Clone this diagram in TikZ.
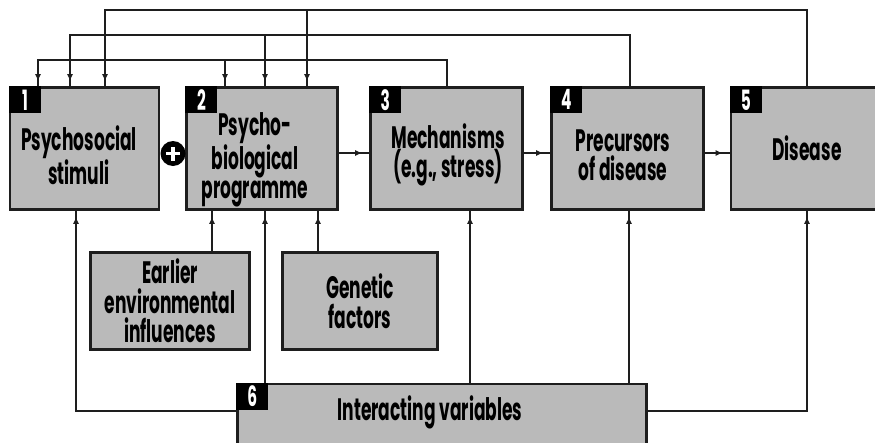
\documentclass[tikz,border=0pt]{standalone}
\usepackage{fontspec}
\setmainfont{Poppins}[FakeStretch=0.55]
\usetikzlibrary{arrows.meta,decorations.markings}
\definecolor{boxgray}{RGB}{186,186,186}
\definecolor{linecol}{RGB}{30,30,30}
\begin{document}
\begin{tikzpicture}[x=1pt,y=-1pt,
 box/.style={draw=linecol, line width=2.6pt, fill=boxgray, inner sep=0pt},
 numlab/.style={fill=black, text=white, inner sep=0pt, minimum width=32pt, minimum height=27pt, anchor=north west, font=\bfseries\fontsize{28}{28}\selectfont},
 txt/.style={align=center, font=\bfseries\fontsize{31}{29.5}\selectfont, text=black, inner sep=0pt},
 conn/.style={draw=linecol, line width=2pt},
 arr/.style={conn, postaction={decorate}, decoration={markings, mark=at position #1 with {\arrow{Latex[length=7pt,width=6pt]}}}},
 arr/.default=-5pt
]
\useasboundingbox (0,0) rectangle (875,442);
\clip (0,0) rectangle (875,442);
\fill[white] (0,0) rectangle (875,442);

% main boxes
\node[box, minimum width=149pt, minimum height=122pt] (b1) at (84.5,148.5) {};
\node[box, minimum width=151pt, minimum height=122pt] (b2) at (262,148.5) {};
\node[box, minimum width=152pt, minimum height=122pt] (b3) at (446.5,148.5) {};
\node[box, minimum width=152pt, minimum height=122pt] (b4) at (627.5,148.5) {};
\node[box, minimum width=152pt, minimum height=122pt] (b5) at (807,148.5) {};
\node[box, minimum width=409pt, minimum height=122pt] (b6) at (442,445) {};
\node[box, minimum width=159pt, minimum height=97pt, txt] (env) at (170,301) {Earlier\\environmental\\influences};
\node[box, minimum width=155pt, minimum height=97pt, txt] (gen) at (360,301) {Genetic\\factors};

% texts
\node[txt] (t1) at (79,155) {Psychosocial\\stimuli};
\node[txt] (t2) at (255,160) {Psycho-\\biological\\programme};
\node[txt] (t3) at (448,155) {Mechanisms\\(e.g., stress)};
\node[txt] (t4) at (623,155) {Precursors\\of disease};
\node[txt] (t5) at (807,148) {Disease};
\node[txt] (t6) at (430,412) {Interacting variables};

% number labels
\node[numlab] (n1) at (b1.north west) {1};
\node[numlab] (n2) at (b2.north west) {2};
\node[numlab] (n3) at (b3.north west) {3};
\node[numlab] (n4) at (b4.north west) {4};
\node[numlab] (n5) at (b5.north west) {5};
\node[numlab] (n6) at (b6.north west) {6};

% plus sign
\node[circle, fill=black, minimum size=25pt, inner sep=0pt] (plus) at (173,153.5) {};
\draw[white, line width=3.5pt] ([xshift=-7pt]plus.center) -- ([xshift=7pt]plus.center);
\draw[white, line width=3.5pt] ([yshift=-7pt]plus.center) -- ([yshift=7pt]plus.center);

% helper levels
\coordinate (L1) at (0,10);
\coordinate (L2) at (0,35);
\coordinate (L3) at (0,60);
\coordinate (L6) at (0,411);
\coordinate (H) at (0,153);

% drop points on top of boxes 1 and 2
\coordinate (p1a) at ([xshift=20.5pt]b1.north);
\coordinate (p2a) at ([xshift=45pt]b2.north);
\coordinate (p1b) at ([xshift=-14.5pt]b1.north);
\coordinate (p2b) at ([xshift=3pt]b2.north);
\coordinate (p1c) at ([xshift=-46.5pt]b1.north);
\coordinate (p2c) at ([xshift=-37pt]b2.north);

% feedback loops
\draw[arr] (b5.north) -- (b5.north |- L1) -| (p1a);
\draw[arr] (p2a |- L1) -- (p2a);
\draw[arr] ([xshift=2.5pt]b4.north) -- ([xshift=2.5pt]b4.north |- L2) -| (p1b);
\draw[arr] (p2b |- L2) -- (p2b);
\draw[arr] (b3.north) -- (b3.north |- L3) -| (p1c);
\draw[arr] (p2c |- L3) -- (p2c);

% bottom inputs
\coordinate (q1) at ([xshift=-8.5pt]b1.south);
\coordinate (q2e) at ([xshift=-50pt]b2.south);
\coordinate (q2s) at ([xshift=3pt]b2.south);
\coordinate (q2g) at ([xshift=56pt]b2.south);
\coordinate (q3) at ([xshift=23.5pt]b3.south);
\coordinate (q4) at ([xshift=1.5pt]b4.south);

\draw[arr=-6pt] (b6.west |- L6) -| (q1);
\draw[arr=-6pt] (b6.east |- L6) -| (b5.south);
\draw[arr=-6pt] (q2e |- env.north) -- (q2e);
\draw[arr=-6pt] (q2g |- gen.north) -- (q2g);
\draw[arr=-6pt] (q2s |- b6.north) -- (q2s);
\draw[arr=-6pt] (q3 |- b6.north) -- (q3);
\draw[arr=-6pt] (q4 |- b6.north) -- (q4);

% chain arrows
\draw[arr=-7pt] (b2.east |- H) -- (b3.west |- H);
\draw[arr=-7pt] (b3.east |- H) -- (b4.west |- H);
\draw[arr=-7pt] (b4.east |- H) -- (b5.west |- H);
\end{tikzpicture}
\end{document}
